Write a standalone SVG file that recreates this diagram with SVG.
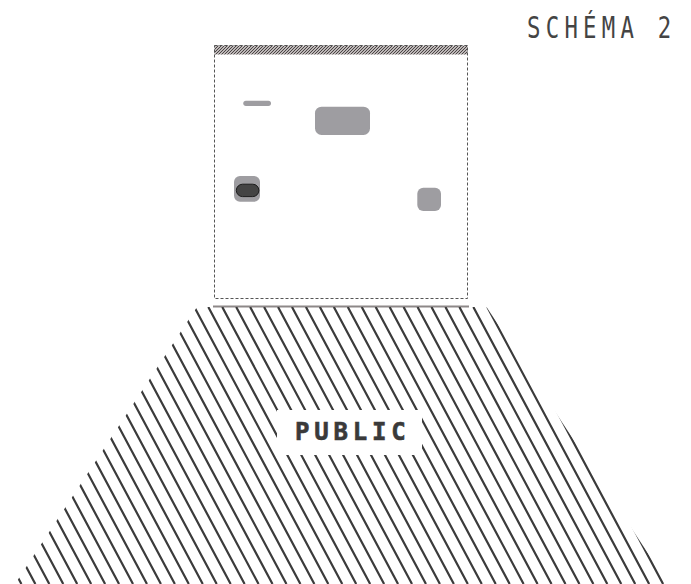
<svg xmlns="http://www.w3.org/2000/svg" width="691" height="584" viewBox="0 0 691 584">
<style>
.hatch{stroke:#3b3b3b;stroke-width:2.2;fill:none}
.frame{fill:none;stroke:#555;stroke-width:1;stroke-dasharray:3 2}
.obj{fill:#9e9da1}
.title{font-family:"DejaVu Sans Mono",monospace;font-size:31px;fill:#444;letter-spacing:7.3px}
.label{font-family:"DejaVu Sans Mono",monospace;font-weight:bold;font-size:24px;fill:#3a3a3a;stroke:#3a3a3a;stroke-width:0.6;letter-spacing:4.8px}
</style>
<defs>
<pattern id="checker" width="3" height="3" patternUnits="userSpaceOnUse">
<rect width="3" height="3" fill="#bdb8b8"/>
<path d="M0,3L3,0M-1,1L1,-1M2,4L4,2" stroke="#4a4444" stroke-width="1"/>
</pattern>
<clipPath id="trap">
<polygon points="197,307 486.5,307 668,584 15,584"/>
</clipPath>
</defs>
<g id="title">
<text class="title" transform="translate(527,38) scale(0.72,1)" x="0" y="0">SCHÉMA 2</text>
</g>
<g id="room">
<rect x="214.5" y="45.5" width="253" height="9" fill="url(#checker)"/>
<rect class="frame" x="214.5" y="45.5" width="253" height="253"/>
</g>
<g id="objects">
<rect id="bar" class="obj" x="243.3" y="100.7" width="27.7" height="5.3" rx="2.65"/>
<rect id="table" class="obj" x="315" y="106.7" width="55" height="28.3" rx="6.5"/>
<g id="seat">
<rect class="obj" x="234" y="176" width="26" height="25.7" rx="6"/>
<rect x="236.3" y="184.2" width="22.6" height="12.4" rx="6.2" fill="#444" stroke="#1c1c1c" stroke-width="1"/>
</g>
<rect id="box" class="obj" x="417.3" y="187.7" width="23.7" height="23.3" rx="6"/>
</g>
<g id="connectors">
<line x1="213" y1="306.5" x2="469" y2="306.5" stroke="#8d8888" stroke-width="2"/>
</g>
<g id="public">
<g clip-path="url(#trap)">
<path class="hatch" d="M-140.45,307l147.9,277M-126.5,307l147.9,277M-112.55,307l147.9,277M-98.6,307l147.9,277M-84.65,307l147.9,277M-70.7,307l147.9,277M-56.75,307l147.9,277M-42.8,307l147.9,277M-28.85,307l147.9,277M-14.9,307l147.9,277M-0.95,307l147.9,277M13,307l147.9,277M26.95,307l147.9,277M40.9,307l147.9,277M54.85,307l147.9,277M68.8,307l147.9,277M82.75,307l147.9,277M96.7,307l147.9,277M110.65,307l147.9,277M124.6,307l147.9,277M138.55,307l147.9,277M152.5,307l147.9,277M166.45,307l147.9,277M180.4,307l147.9,277M194.35,307l147.9,277M208.3,307l147.9,277M222.25,307l147.9,277M236.2,307l147.9,277M250.15,307l147.9,277M264.1,307l147.9,277M278.05,307l147.9,277M292,307l147.9,277M305.95,307l147.9,277M319.9,307l147.9,277M333.85,307l147.9,277M347.8,307l147.9,277M361.75,307l147.9,277M375.7,307l147.9,277M389.65,307l147.9,277M403.6,307l147.9,277M417.55,307l147.9,277M431.5,307l147.9,277M445.45,307l147.9,277M459.4,307l147.9,277M473.35,307l147.9,277M487.3,307l147.9,277M501.25,307l147.9,277M515.2,307l147.9,277M529.15,307l147.9,277"/>
</g>
<rect x="277" y="410" width="145" height="45" fill="#fff"/>
<text class="label" x="295" y="439.5">PUBLIC</text>
</g>
</svg>
